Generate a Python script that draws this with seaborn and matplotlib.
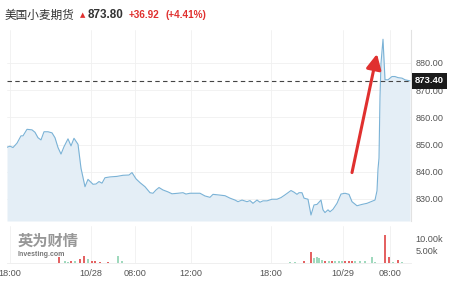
import numpy as np
import pandas as pd
import matplotlib
matplotlib.use("Agg")
import matplotlib.pyplot as plt
import matplotlib.transforms as mtransforms
import seaborn as sns

# ---------------- data ----------------
title_name = "美国小麦期货"
last_price = "873.80"
change_abs = "+36.92"
change_pct = "(+4.41%)"
marker_price = 873.40

price_slot = [0, 3, 6, 10, 14, 16, 20, 25, 28, 31, 34, 37, 41, 45, 48, 51, 54, 57, 61, 64,
              67, 71, 74, 78, 81, 86, 89, 92, 95, 98, 103, 110, 116, 122, 125, 129, 133, 138,
              143, 146, 149, 152, 156, 161, 165, 171, 176, 179, 183, 193, 198, 203, 206, 211,
              218, 223, 228, 231, 235, 240, 243, 246, 250, 253, 256, 260, 265, 270, 274, 278,
              281, 284, 287, 290, 292, 295, 297, 301, 304, 307, 310, 314, 316, 318, 321, 323,
              326, 330, 334, 338, 342, 345, 350, 355, 360, 364, 368, 370, 371, 372, 373, 374,
              376, 378, 381, 385, 388, 391, 395, 398, 403]
price_value = [849.0, 849.4, 848.9, 850.5, 853.2, 853.2, 855.6, 855.4, 854.5, 852.5, 851.7,
               854.7, 854.7, 854.3, 852.5, 848.9, 846.5, 849.2, 852.1, 849.5, 852.3, 850.1,
               841.3, 834.5, 837.2, 835.4, 835.5, 836.4, 835.8, 837.8, 838.1, 838.3, 838.7,
               838.8, 839.7, 837.4, 836.0, 834.5, 832.3, 832.1, 833.3, 834.2, 833.3, 832.6,
               831.9, 832.1, 832.3, 831.8, 832.1, 832.1, 831.1, 830.6, 831.7, 831.5, 831.2,
               830.3, 829.6, 829.0, 829.6, 829.0, 829.4, 828.4, 829.6, 828.8, 829.3, 829.3,
               829.9, 829.9, 830.5, 831.5, 832.3, 833.1, 832.5, 831.7, 832.3, 832.3, 830.3,
               829.9, 824.1, 827.8, 828.0, 829.6, 826.0, 825.0, 826.0, 825.3, 826.2, 828.4,
               831.8, 832.1, 831.7, 829.0, 827.5, 828.0, 828.4, 829.0, 829.6, 833.0, 841.0,
               845.0, 867.6, 879.9, 888.7, 873.8, 873.8, 875.0, 875.0, 874.6, 874.4, 873.8,
               873.4]

vol_slot = [52, 58, 61, 64, 68, 73, 77, 81, 85, 88, 93, 101, 111, 115, 133, 146, 203, 223,
            233, 283, 288, 297, 304, 307, 310, 312, 315, 318, 322, 325, 328, 332, 335, 338,
            342, 345, 348, 353, 358, 365, 368, 378, 382, 386, 391, 395]
vol_value = [2.6, 1.0, 0.6, 0.7, 0.8, 1.7, 2.8, 1.7, 1.0, 0.7, 0.5, 0.6, 2.8, 0.7, 0.2, 0.2,
             0.2, 0.15, 0.15, 0.4, 0.4, 0.8, 4.7, 2.0, 2.4, 2.2, 1.2, 0.8, 0.8, 0.7, 0.8, 1.0,
             0.8, 1.0, 1.0, 1.0, 0.8, 0.7, 0.7, 2.3, 0.6, 11.7, 2.3, 0.6, 1.2, 0.4]
vol_dir = ["up", "down", "down", "up", "down", "up", "up", "down", "up", "up", "up", "up",
           "down", "down", "down", "down", "up", "down", "down", "down", "down", "up", "up",
           "down", "down", "down", "down", "up", "down", "up", "down", "down", "down", "up",
           "up", "up", "down", "down", "down", "down", "down", "up", "up", "down", "up", "down"]

tick_slot = [3, 84, 128, 184, 264, 336, 383]
tick_label = ["18:00", "10/28", "08:00", "12:00", "18:00", "10/29", "08:00"]
price_ticks = [830, 840, 850, 860, 870, 880]
vol_ticks = [5, 10]
vol_tick_label = ["5.00k", "10.00k"]

arrow_from = (345, 839.7)
arrow_to = (370, 883.3)

# ---------------- style ----------------
sns.set_style("white")
plt.rcParams["font.family"] = ["Liberation Sans", "Noto Sans CJK SC", "DejaVu Sans"]

W, H = 451, 284
fig = plt.figure(figsize=(W / 100, H / 100), dpi=100)
fig.patch.set_facecolor("white")

line_col = "#7ab2d6"
fill_col = "#e4eef6"
grid_col = "#f0f0f0"
lab_col = "#555555"
red = "#e0302f"

x_left, x_right = 7, 411
ymin, ymax = 821.9, 892.1

ax = fig.add_axes([x_left / W, 1 - 221 / H, (x_right - x_left) / W, (221 - 30) / H])
df = pd.DataFrame({"slot": price_slot, "price": price_value})
sns.lineplot(data=df, x="slot", y="price", ax=ax, color=line_col, lw=0.8, zorder=3)
ax.fill_between(df["slot"], df["price"], ymin, color=fill_col, lw=0, zorder=2)
ax.set_xlim(0, 404)
ax.set_ylim(ymin, ymax)
ax.set_xlabel("")
ax.set_ylabel("")
ax.yaxis.tick_right()
ax.set_yticks(price_ticks)
ax.set_yticklabels([f"{v:.2f}" for v in price_ticks])
ax.set_xticks(tick_slot)
ax.tick_params(axis="x", labelbottom=False, length=0)
ax.tick_params(axis="y", length=0, labelsize=6.6, labelcolor=lab_col, pad=3)
ax.grid(True, color=grid_col, lw=0.6, zorder=0)
for s in ["top", "left", "bottom"]:
    ax.spines[s].set_visible(False)
ax.spines["right"].set_color("#e2e2e2")
ax.spines["right"].set_linewidth(0.8)

# last price dashed line + label box
ax.axhline(marker_price, color="#444444", lw=0.8, ls=(0, (4, 3)), zorder=4)
trans = mtransforms.blended_transform_factory(ax.transAxes, ax.transData)
ax.text(1.0 + 4 / 404, marker_price, f"{marker_price:.2f}", transform=trans,
        ha="left", va="center", color="white", fontsize=6.8, fontweight="bold",
        bbox=dict(boxstyle="square,pad=0.35", fc="#1b1b1b", ec="none"),
        clip_on=False, zorder=6)

# red arrow
ax.annotate("", xy=arrow_to, xytext=arrow_from,
            arrowprops=dict(arrowstyle="-|>,head_length=0.9,head_width=0.45", color=red,
                            lw=2.2, shrinkA=0, shrinkB=0), zorder=7)

# ---------------- volume ----------------
vax = fig.add_axes([x_left / W, 1 - 263 / H, (x_right - x_left) / W, 37 / H])
vcol = {"up": "#e46262", "down": "#9fd9bd"}
vax.bar(vol_slot, vol_value, width=2.0, color=[vcol[d] for d in vol_dir], lw=0, zorder=3)
vax.set_xlim(0, 404)
vax.set_ylim(0, 15.4)
vax.yaxis.tick_right()
vax.set_yticks(vol_ticks)
vax.set_yticklabels(vol_tick_label)
vax.set_xticks(tick_slot)
vax.set_xticklabels(tick_label)
vax.tick_params(axis="x", length=0, labelsize=6.6, labelcolor=lab_col, pad=4)
vax.tick_params(axis="y", length=0, labelsize=6.6, labelcolor=lab_col, pad=3)
vax.grid(True, axis="x", color=grid_col, lw=0.6, zorder=0)
for s in ["top", "left", "right"]:
    vax.spines[s].set_visible(False)
vax.spines["bottom"].set_color("#ececec")
vax.spines["bottom"].set_linewidth(0.6)

# watermark
fig.text(18 / W, 1 - 241 / H, "英为财情", fontsize=11, color="#8c8c8c", fontweight="bold",
         ha="left", va="center", family=["Noto Sans CJK SC", "DejaVu Sans"], alpha=0.9)
fig.text(17 / W, 1 - 254 / H, "Investing.com", fontsize=5, color="#777777",
         ha="left", va="center", fontweight="bold")

# ---------------- header ----------------
yh = 1 - 15 / H
fig.text(5 / W, yh, title_name, fontsize=8.4, color="#333333", ha="left", va="center",
         family=["Noto Sans CJK SC", "DejaVu Sans"])
fig.text(80 / W, yh, "▲", fontsize=5, color=red, ha="left", va="center",
         family=["DejaVu Sans"])
fig.text(88 / W, yh, last_price, fontsize=8.4, color="#333333", ha="left", va="center",
         fontweight="bold")
fig.text(129 / W, yh, change_abs, fontsize=7.2, color=red, ha="left", va="center",
         fontweight="bold")
fig.text(165 / W, yh, change_pct, fontsize=7.2, color=red, ha="left", va="center",
         fontweight="bold")

fig.savefig("out.png", dpi=100)
